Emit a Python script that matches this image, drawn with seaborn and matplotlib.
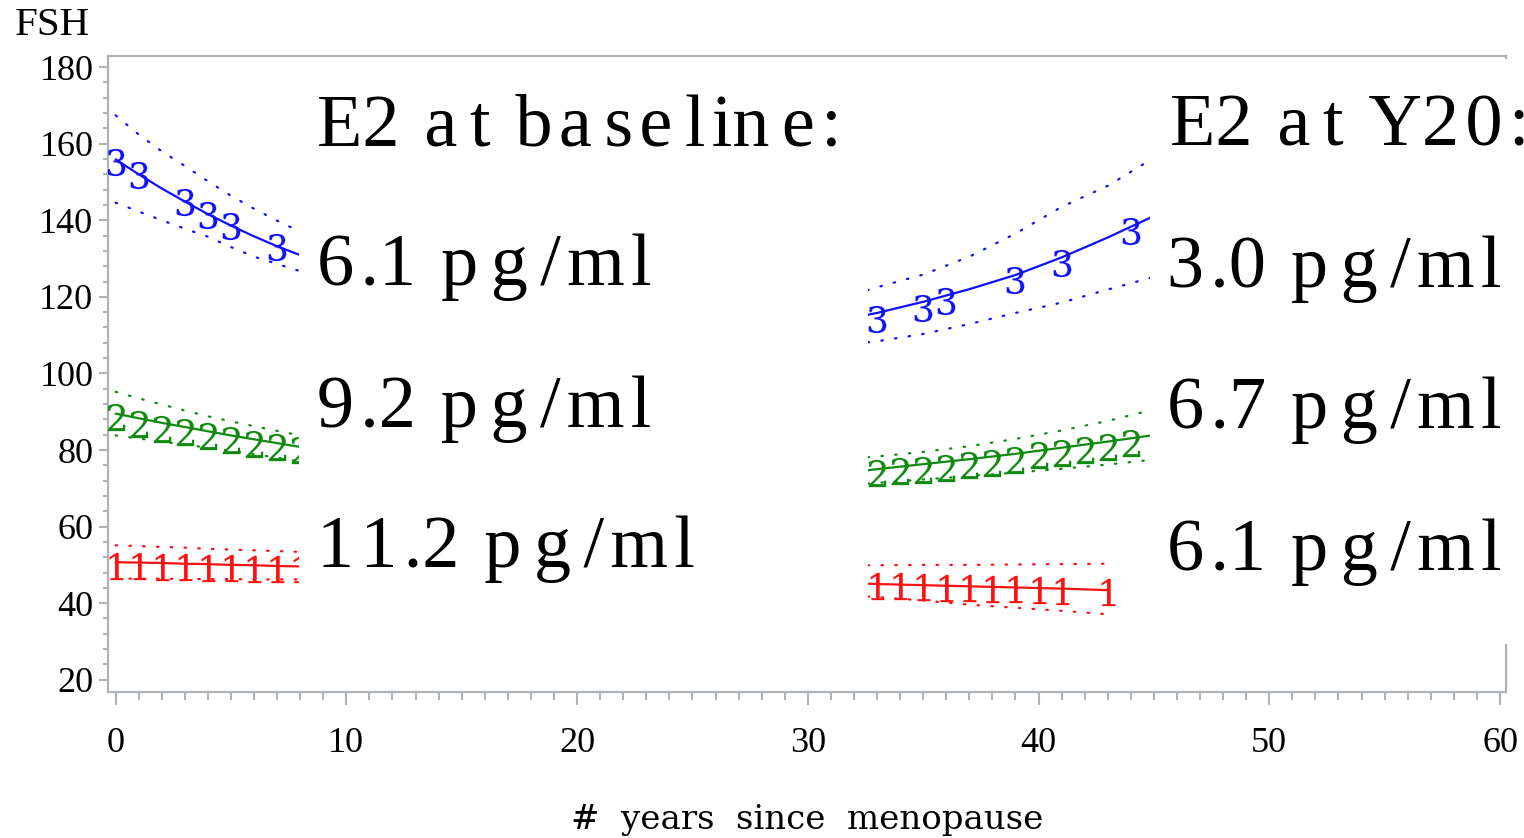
import matplotlib
matplotlib.use("Agg")
import matplotlib.pyplot as plt
import seaborn as sns
from matplotlib.ticker import MultipleLocator
from matplotlib.patches import Rectangle

# ---------------- data ----------------
left_x = [0, 1, 2, 3, 4, 5, 6, 7, 8]
blue_left_fit = [155.9, 152.0, 148.3, 144.9, 141.6, 138.6, 135.8, 133.2, 130.9]
blue_left_hi = [167.4, 162.4, 158.0, 154.2, 150.2, 146.4, 143.0, 139.9, 137.0]
blue_left_lo = [144.6, 142.3, 140.0, 137.8, 135.7, 133.0, 130.5, 128.6, 126.7]
blue_left_pts_x = [0, 1, 3, 4, 5, 7]
blue_left_pts_y = [155.2, 151.8, 144.8, 141.3, 138.5, 133.1]

green_left_fit = [89.5, 88.3, 87.1, 86.0, 84.9, 83.8, 82.8, 81.8, 80.8]
green_left_hi = [95.2, 93.5, 91.9, 90.3, 88.8, 87.5, 86.2, 85.0, 83.8]
green_left_lo = [83.8, 83.0, 82.2, 81.4, 80.6, 79.8, 78.9, 78.0, 77.0]
green_left_pts_x = [0, 1, 2, 3, 4, 5, 6, 7, 8]
green_left_pts_y = [88.6, 86.9, 85.6, 84.6, 83.6, 82.5, 81.6, 80.9, 79.9]

red_left_fit = [50.7, 50.6, 50.5, 50.3, 50.2, 50.0, 49.9, 49.7, 49.6]
red_left_hi = [55.1, 54.9, 54.7, 54.5, 54.2, 54.0, 53.8, 53.6, 53.4]
red_left_lo = [46.4, 46.4, 46.4, 46.3, 46.3, 46.3, 46.2, 46.2, 46.2]
red_left_pts_x = [0, 1, 2, 3, 4, 5, 6, 7, 8]
red_left_pts_y = [49.8, 49.7, 49.5, 49.4, 49.3, 49.2, 49.0, 48.9, 48.8]

right_x = [32, 33, 35, 37, 39, 41, 43, 45]
blue_right_fit = [114.6, 115.8, 118.7, 122.0, 125.7, 130.3, 135.5, 141.1]
blue_right_hi = [120.7, 122.5, 125.8, 130.5, 136.5, 143.5, 149.0, 156.3]
blue_right_lo = [107.7, 108.4, 110.3, 112.9, 115.8, 118.5, 121.9, 125.2]
blue_right_pts_x = [33, 35, 36, 39, 41, 44]
blue_right_pts_y = [114.3, 117.1, 118.8, 124.5, 128.8, 137.3]

green_right_fit = [74.3, 75.0, 76.3, 77.6, 79.0, 80.6, 82.2, 83.9]
green_right_hi = [77.8, 78.3, 79.5, 81.0, 82.9, 85.1, 87.6, 90.6]
green_right_lo = [70.9, 71.4, 72.3, 73.2, 74.1, 75.1, 76.2, 77.5]
green_right_pts_x = [33, 34, 35, 36, 37, 38, 39, 40, 41, 42, 43, 44]
green_right_pts_y = [74.1, 74.5, 74.7, 75.4, 76.0, 76.6, 77.3, 78.6, 79.2, 79.9, 80.8, 81.9]

red_right_x = [32, 33, 35, 37, 39, 41, 43]
red_right_fit = [45.2, 45.0, 44.7, 44.4, 44.1, 43.8, 43.4]
red_right_hi = [49.9, 49.9, 50.0, 50.0, 50.1, 50.2, 50.3]
red_right_lo = [41.9, 41.6, 40.7, 39.6, 38.8, 38.0, 37.1]
red_right_pts_x = [33, 34, 35, 36, 37, 38, 39, 40, 41, 43]
red_right_pts_y = [44.6, 44.4, 44.1, 44.0, 43.9, 43.7, 43.6, 43.4, 43.3, 42.9]

x_ticks = [0, 10, 20, 30, 40, 50, 60]
y_ticks = [20, 40, 60, 80, 100, 120, 140, 160, 180]

HS = "\u200a"  # hair space, imitates the loose letter spacing of the slide text
baseline_title = "E2 " + HS + "a" + HS * 2 + "t " + HS + "b" + HS + "a" + HS * 2 + "s" + HS + "e" + HS * 2 + "l" + HS + "in" + HS * 2 + "e" + HS + ":"
y20_title = "E2 " + HS + "a" + HS * 2 + "t " + HS + "Y2" + HS + "0" + HS + ":"

baseline_values = ["6.1", "9.2", "11.2"]
y20_values = ["3.0", "6.7", "6.1"]


def label(v):
    head = v[:-2] + HS + v[-2:]          # e.g. "6" + hair + ".1"
    if len(v) == 4:                       # "11.2"
        head = v[0] + HS + v[1] + HS + v[2:]
    return head + " " + HS + "p" + HS * 2 + "g" + HS * 2 + "/" + HS + "m" + HS + "l"


# ---------------- style ----------------
sns.set_theme(style="white")
plt.rcParams["font.family"] = ["Liberation Serif", "DejaVu Serif"]
plt.rcParams["mathtext.fontset"] = "dejavuserif"
plt.rcParams["text.color"] = "black"

W, H = 1524, 838
fig = plt.figure(figsize=(W / 100, H / 100), dpi=100)
ax_l, ax_r, ax_t, ax_b = 108, 1506, 56, 692
ax = fig.add_axes([ax_l / W, 1 - ax_b / H, (ax_r - ax_l) / W, (ax_b - ax_t) / H])

BLUE, GREEN, RED = "#1010ff", "#108a10", "#ff1010"
dot = (0, (0.7, 5.5))


def group(xs, fit, hi, lo, px, py, color, sym):
    sns.lineplot(x=xs, y=fit, color=color, linewidth=1.6, ax=ax, zorder=3)
    sns.lineplot(x=xs, y=hi, color=color, linewidth=1.6, linestyle=dot,
                 dash_capstyle="round", ax=ax, zorder=3)
    sns.lineplot(x=xs, y=lo, color=color, linewidth=1.6, linestyle=dot,
                 dash_capstyle="round", ax=ax, zorder=3)
    sns.scatterplot(x=px, y=py, marker=f"${sym}$", s=380, color=color,
                    edgecolor=color, linewidth=0.1, ax=ax, zorder=4)


group(left_x, blue_left_fit, blue_left_hi, blue_left_lo, blue_left_pts_x, blue_left_pts_y, BLUE, "3")
group(left_x, green_left_fit, green_left_hi, green_left_lo, green_left_pts_x, green_left_pts_y, GREEN, "2")
group(left_x, red_left_fit, red_left_hi, red_left_lo, red_left_pts_x, red_left_pts_y, RED, "1")
group(right_x, blue_right_fit, blue_right_hi, blue_right_lo, blue_right_pts_x, blue_right_pts_y, BLUE, "3")
group(right_x, green_right_fit, green_right_hi, green_right_lo, green_right_pts_x, green_right_pts_y, GREEN, "2")
group(red_right_x, red_right_fit, red_right_hi, red_right_lo, red_right_pts_x, red_right_pts_y, RED, "1")

ax.set_xlim(-0.33, 60.26)
ax.set_ylim(16.8, 182.9)
ax.set_xticks(x_ticks)
ax.set_xticklabels([str(v) for v in x_ticks])
ax.set_yticks(y_ticks)
ax.set_yticklabels([str(v) for v in y_ticks])
ax.xaxis.set_minor_locator(MultipleLocator(1))
ax.yaxis.set_minor_locator(MultipleLocator(4))

GREY = "#aeb3b8"
for sp in ax.spines.values():
    sp.set_visible(True)
    sp.set_color(GREY)
    sp.set_linewidth(1.6)
ax.tick_params(axis="both", which="both", direction="out", colors=GREY,
               labelcolor="black", width=1.5)
ax.tick_params(axis="x", which="major", length=9.5, pad=16, labelsize=26)
ax.tick_params(axis="x", which="minor", length=5.5)
ax.tick_params(axis="y", which="major", length=6.5, pad=4, labelsize=26)
ax.tick_params(axis="y", which="minor", length=3.6)
ax.tick_params(top=False, right=False, which="both")
ax.tick_params(bottom=True, left=True, which="both")

ax.set_xlabel("#  years  since  menopause", fontsize=24.5, family="DejaVu Serif",
              color="black")
ax.xaxis.set_label_coords(0.5, -(829 - ax_b) / (ax_b - ax_t))
ax.xaxis.label.set_va("baseline")
ax.set_ylabel("FSH", rotation=0, fontsize=29.5, color="black")
ax.yaxis.set_label_coords((52 - ax_l) / (ax_r - ax_l), (ax_b - 35) / (ax_b - ax_t))
ax.yaxis.label.set_va("baseline")
ax.yaxis.label.set_ha("center")

# white text boxes pasted over the plot
fig.add_artist(Rectangle((299 / W, 1 - 615 / H), (868 - 299) / W, (615 - 59) / H,
                         transform=fig.transFigure, facecolor="white",
                         edgecolor="none", zorder=5))
fig.add_artist(Rectangle((1150 / W, 1 - 644 / H), (W - 1150) / W, (644 - 59) / H,
                         transform=fig.transFigure, facecolor="white",
                         edgecolor="none", zorder=5))

big = dict(fontsize=53.5, family=["Liberation Serif", "DejaVu Serif"],
           va="baseline", ha="left", zorder=10, color="black")
fig.text(317 / W, 1 - 146 / H, baseline_title, **big)
fig.text(1170 / W, 1 - 146 / H, y20_title, **big)
for v, yb in zip(baseline_values, [285, 426.7, 566.7]):
    fig.text(317 / W, 1 - yb / H, label(v), **big)
for v, yb in zip(y20_values, [287, 428.3, 570]):
    fig.text(1167 / W, 1 - yb / H, label(v), **big)

fig.savefig("out.png", dpi=100)
